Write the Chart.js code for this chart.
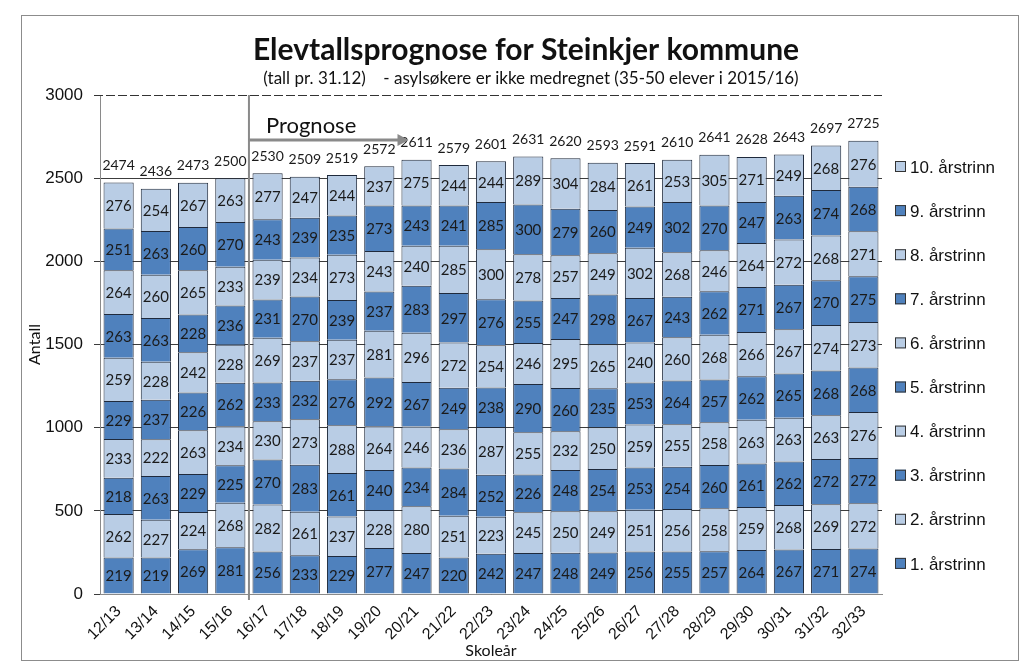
<!DOCTYPE html>
<html lang="no">
<head>
<meta charset="utf-8">
<title>Elevtallsprognose for Steinkjer kommune</title>
<script src="https://cdn.jsdelivr.net/npm/chart.js@4/dist/chart.umd.min.js"></script>
<style>
  html, body { margin: 0; padding: 0; background: #fff; }
  #wrap { position: relative; width: 1024px; height: 670px; }
</style>
</head>
<body>
<div id="wrap"><canvas id="chart"></canvas></div>
<script>
const categories = ['12/13', '13/14', '14/15', '15/16', '16/17', '17/18', '18/19', '19/20', '20/21', '21/22', '22/23',
    '23/24', '24/25', '25/26', '26/27', '27/28', '28/29', '29/30', '30/31', '31/32', '32/33'];

const grade1 = [219, 219, 269, 281, 256, 233, 229, 277, 247, 220, 242, 247, 248, 249, 256, 255, 257, 264, 267, 271, 274];
const grade2 = [262, 227, 224, 268, 282, 261, 237, 228, 280, 251, 223, 245, 250, 249, 251, 256, 258, 259, 268, 269, 272];
const grade3 = [218, 263, 229, 225, 270, 283, 261, 240, 234, 284, 252, 226, 248, 254, 253, 254, 260, 261, 262, 272, 272];
const grade4 = [233, 222, 263, 234, 230, 273, 288, 264, 246, 236, 287, 255, 232, 250, 259, 255, 258, 263, 263, 263, 276];
const grade5 = [229, 237, 226, 262, 233, 232, 276, 292, 267, 249, 238, 290, 260, 235, 253, 264, 257, 262, 265, 268, 268];
const grade6 = [259, 228, 242, 228, 269, 237, 237, 281, 296, 272, 254, 246, 295, 265, 240, 260, 268, 266, 267, 274, 273];
const grade7 = [263, 263, 228, 236, 231, 270, 239, 237, 283, 297, 276, 255, 247, 298, 267, 243, 262, 271, 267, 270, 275];
const grade8 = [264, 260, 265, 233, 239, 234, 273, 243, 240, 285, 300, 278, 257, 249, 302, 268, 246, 264, 272, 268, 271];
const grade9 = [251, 263, 260, 270, 243, 239, 235, 273, 243, 241, 285, 300, 279, 260, 249, 302, 270, 247, 263, 274, 268];
const grade10 = [276, 254, 267, 263, 277, 247, 244, 237, 275, 244, 244, 289, 304, 284, 261, 253, 305, 271, 249, 268, 276];

const totals = [2474, 2436, 2473, 2500, 2530, 2509, 2519, 2572, 2611, 2579, 2601, 2631, 2620, 2593, 2591, 2610,
    2641, 2628, 2643, 2697, 2725];

const seriesNames = ['1. årstrinn', '2. årstrinn', '3. årstrinn', '4. årstrinn', '5. årstrinn',
    '6. årstrinn', '7. årstrinn', '8. årstrinn', '9. årstrinn', '10. årstrinn'];
const seriesData = [grade1, grade2, grade3, grade4, grade5, grade6, grade7, grade8, grade9, grade10];

const darkBlue = '#4F81BD';
const lightBlue = '#B9CDE5';
const labelFont = 'Lato, "Open Sans", sans-serif';

const datasets = seriesData.map((data, i) => ({
    label: seriesNames[i],
    data: data,
    backgroundColor: i % 2 === 0 ? darkBlue : lightBlue,
    borderColor: '#1f2a3c',
    borderWidth: 1,
    barPercentage: 0.81,
    categoryPercentage: 1
}));

// titles, divider, arrow, legend, labels
const decorPlugin = {
    id: 'decor',
    beforeDatasetsDraw(chart) {
        const { ctx, chartArea, scales } = chart;
        const y3000 = scales.y.getPixelForValue(3000);
        ctx.save();
        ctx.strokeStyle = '#333';
        ctx.lineWidth = 1;
        ctx.setLineDash([9, 3]);
        ctx.beginPath();
        ctx.moveTo(chartArea.left - 6, y3000 + 0.5);
        ctx.lineTo(chartArea.right, y3000 + 0.5);
        ctx.stroke();
        ctx.restore();
    },
    afterDatasetsDraw(chart) {
        const { ctx, chartArea, scales } = chart;
        ctx.save();

        // values inside segments
        ctx.textAlign = 'center';
        ctx.textBaseline = 'middle';
        ctx.font = '15px ' + labelFont;
        ctx.fillStyle = '#1a1a1a';
        chart.data.datasets.forEach((ds, di) => {
            const meta = chart.getDatasetMeta(di);
            meta.data.forEach((bar, j) => {
                ctx.fillText(String(ds.data[j]), bar.x, (bar.y + bar.base) / 2 + 1);
            });
        });

        // totals
        ctx.font = '14px ' + labelFont;
        totals.forEach((t, j) => {
            const x = scales.x.getPixelForValue(j);
            const y = scales.y.getPixelForValue(t);
            ctx.fillText(String(t), x, y - 17);
        });

        // divider between history and forecast
        const xDiv = (scales.x.getPixelForValue(3) + scales.x.getPixelForValue(4)) / 2;
        const yTop = scales.y.getPixelForValue(3000);
        ctx.strokeStyle = '#8a8a8a';
        ctx.lineWidth = 2;
        ctx.beginPath();
        ctx.moveTo(xDiv, yTop);
        ctx.lineTo(xDiv, chartArea.bottom + 6);
        ctx.stroke();

        // Prognose arrow
        const yArrow = 140;
        const xEnd = scales.x.getPixelForValue(8) - 10;
        ctx.lineWidth = 3;
        ctx.beginPath();
        ctx.moveTo(xDiv, yArrow);
        ctx.lineTo(xEnd - 6, yArrow);
        ctx.stroke();
        ctx.fillStyle = '#8a8a8a';
        ctx.beginPath();
        ctx.moveTo(xEnd + 2, yArrow);
        ctx.lineTo(xEnd - 9, yArrow - 6);
        ctx.lineTo(xEnd - 9, yArrow + 6);
        ctx.closePath();
        ctx.fill();

        ctx.fillStyle = '#111';
        ctx.textAlign = 'left';
        ctx.font = '22px ' + labelFont;
        ctx.fillText('Prognose', xDiv + 17, 126);

        // title
        ctx.textAlign = 'center';
        ctx.font = 'bold 30px ' + labelFont;
        ctx.fillText('Elevtallsprognose for Steinkjer kommune', 526, 50);
        ctx.font = '17px ' + labelFont;
        ctx.fillText('(tall pr. 31.12)    - asylsøkere er ikke medregnet (35-50 elever i 2015/16)', 531, 79);

        // legend (top to bottom: 10 .. 1)
        ctx.font = '17px "Liberation Sans", Arial, sans-serif';
        ctx.textAlign = 'left';
        for (let k = 0; k < seriesNames.length; k++) {
            const di = seriesNames.length - 1 - k;
            const yc = 167 + k * 44.1;
            ctx.fillStyle = datasets[di].backgroundColor;
            ctx.fillRect(895, yc - 6, 11, 11);
            ctx.strokeStyle = '#333';
            ctx.lineWidth = 1;
            ctx.strokeRect(895.5, yc - 5.5, 10, 10);
            ctx.fillStyle = '#111';
            ctx.fillText(seriesNames[di], 910, yc + 1);
        }

        // outer frame
        ctx.strokeStyle = '#8c8c8c';
        ctx.lineWidth = 1;
        ctx.strokeRect(21.5, 15.5, 997, 645);
        ctx.restore();
    }
};

new Chart(document.getElementById('chart'), {
    type: 'bar',
    data: { labels: categories, datasets: datasets },
    options: {
        responsive: true,
        maintainAspectRatio: false,
        animation: false,
        layout: { padding: { left: 25, right: 142, top: 95, bottom: 10 } },
        plugins: {
            legend: { display: false },
            tooltip: { enabled: false }
        },
        scales: {
            x: {
                stacked: true,
                grid: { display: false, drawTicks: false },
                border: { color: '#8a8a8a', width: 1 },
                ticks: {
                    color: '#111',
                    font: { family: '"Liberation Sans", Arial, sans-serif', size: 16 },
                    maxRotation: 45,
                    minRotation: 45,
                    autoSkip: false,
                    padding: 8
                },
                title: {
                    display: true,
                    text: 'Skoleår',
                    color: '#111',
                    font: { family: labelFont, size: 16 },
                    padding: { top: 0, bottom: 0 }
                },
                afterFit(scale) { scale.height = 66; }
            },
            y: {
                stacked: true,
                min: 0,
                max: 3000,
                ticks: {
                    stepSize: 500,
                    color: '#111',
                    font: { family: '"Liberation Sans", Arial, sans-serif', size: 17 },
                    padding: 11,
                    callback: (v) => String(v)
                },
                grid: {
                    color: (c) => (c.tick && c.tick.value === 3000 ? 'rgba(0,0,0,0)' : '#3c3c3c'),
                    tickColor: '#3c3c3c',
                    tickLength: 6,
                    lineWidth: 1
                },
                border: { color: '#8a8a8a', width: 1 },
                title: {
                    display: true,
                    text: 'Antall',
                    color: '#111',
                    font: { family: labelFont, size: 16 },
                    padding: { top: 0, bottom: 0 }
                },
                afterFit(scale) { scale.width = 75; }
            }
        }
    },
    plugins: [decorPlugin]
});
</script>
</body>
</html>
